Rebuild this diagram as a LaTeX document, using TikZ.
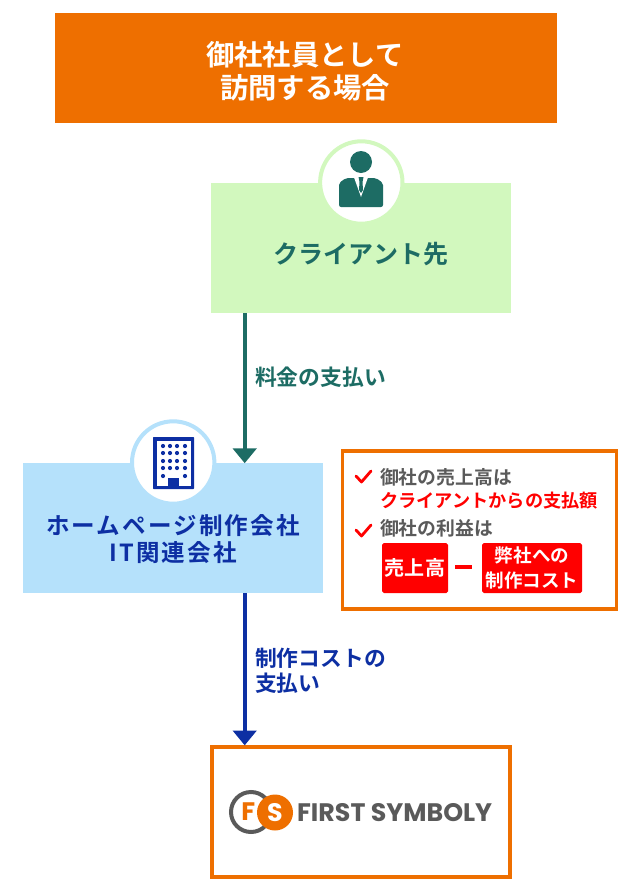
\documentclass[tikz,border=0pt]{standalone}
\usepackage{fontspec}
\usepackage{xcolor}
\usepackage{tikz}
\usetikzlibrary{arrows.meta}
\setmainfont{Noto Sans CJK JP}[BoldFont={Noto Sans CJK JP Bold}]
\newfontfamily\logofont{Poppins}[BoldFont={Poppins Bold}]
\newfontfamily\widefont{Noto Sans CJK JP Bold}[LetterSpace=9]
\definecolor{fsorange}{HTML}{EE6F00}
\definecolor{clientgreen}{HTML}{D2F8BE}
\definecolor{clientteal}{HTML}{1D6C64}
\definecolor{homeblue}{HTML}{B5E1FB}
\definecolor{homenavy}{HTML}{0D2FA3}
\definecolor{notegray}{HTML}{5A5A5A}
\definecolor{notered}{HTML}{FF0000}
\tikzset{
  flatbox/.style={minimum height=6.5cm,minimum width=15cm,align=center,font=\bfseries\fontsize{35.6}{38.4}\selectfont},
  iconring/.style={circle,draw=#1,fill=white,line width=5.7pt,minimum size=4.12cm},
  redbox/.style={fill=notered,rounded corners=2.5pt,text=white,align=center,minimum height=2.5cm,font=\bfseries\fontsize{26.4}{35.6}\selectfont},
  paylabel/.style={anchor=west,align=left,font=\bfseries\fontsize{31}{35.6}\selectfont},
  notetext/.style={anchor=west,align=left,text=notegray,font=\bfseries\fontsize{26.8}{32.7}\selectfont},
  checkmark/.style={draw=notered,line width=4pt,line cap=round,line join=round},
  payarrow/.style={draw=#1,line width=5.7pt,-{Triangle[width=33pt,length=21pt]},shorten >=-0.5pt}
}
\begin{document}
\begin{tikzpicture}[x=0.05cm,y=0.05cm]
  \tikzstyle{every node}+=[inner sep=0pt]
  \useasboundingbox (0,0) rectangle (637,-889);
  % header
  \node [fill=fsorange,text=white,minimum width=25.1cm,minimum height=5.5cm] (header) at (306,-68) {};
  \node [text=white,align=center,font=\bfseries\fontsize{40.3}{47}\selectfont] (headername) at (305,-71) {御社社員として\\訪問する場合};
  % client
  \node [flatbox,fill=clientgreen] (client) at (361,-248) {};
  \node [iconring=clientgreen] (clienticon) at (361.3,-182.5) {};
  \node [text=clientteal,font=\bfseries\fontsize{35.6}{38.4}\selectfont] (clientname) at (361,-254) {クライアント先};
  \fill [clientteal] (361,-162) circle (11);
  \fill [clientteal,rounded corners=3pt] (339,-207) -- (339,-183) -- (346,-178) -- (376,-178) -- (383,-183) -- (383,-207) -- cycle;
  \fill [white] (353.5,-176) -- (361,-197) -- (368.5,-176) -- cycle;
  \fill [clientteal] (358.5,-177) -- (363.5,-177) -- (362.5,-182) -- (363,-190) -- (361,-193) -- (359,-190) -- (359.5,-182) -- cycle;
  % home page company
  \node [flatbox,fill=homeblue] (home) at (173,-528) {};
  \node [iconring=homeblue] (homeicon) at (173.2,-462.5) {};
  \node [text=homenavy,align=center,font=\widefont\fontsize{33.5}{38.4}\selectfont] (homename) at (173,-539.5) {ホームページ制作会社\\IT関連会社};
  \fill [homenavy,rounded corners=0.8pt] (153,-437) rectangle (194,-489);
  \fill [white] (156.5,-440.5) rectangle (190.5,-485.5);
  \foreach \py in {446,453,461,468}
    \foreach \px in {163,170,177,185}
      \fill [homenavy] (\px,-\py) circle (2.1);
  \fill [homenavy] (163,-476) circle (2.1);
  \fill [homenavy] (185,-476) circle (2.1);
  \fill [homenavy] (168,-478) rectangle (179,-487);
  % first symboly
  \node [draw=fsorange,line width=5.7pt,minimum width=14.9cm,minimum height=6.5cm] (symboly) at (360.8,-812) {};
  \node [circle,draw=notegray,line width=5.7pt,minimum size=2cm,text=fsorange,font=\logofont\bfseries\fontsize{36}{36}\selectfont] (logof) at (251,-812) {\hspace*{-8pt}F};
  \node [circle,fill=fsorange,minimum size=1.8cm,text=white,font=\logofont\bfseries\fontsize{36}{36}\selectfont] (logos) at (275,-812.5) {S};
  \node [anchor=west,text=notegray,font=\logofont\bfseries\fontsize{36}{36}\selectfont] (logoname) at (297,-813) {FIRST SYMBOLY};
  % payments
  \coordinate (payclient) at (244.7,-313);
  \coordinate (payhome) at (244.7,-593);
  \draw [payarrow=clientteal] (payclient) -- (payclient |- home.north);
  \draw [payarrow=homenavy] (payhome) -- (payhome |- symboly.north);
  \node [paylabel,text=clientteal] (feelabel) at (255,-377) {料金の支払い};
  \node [paylabel,text=homenavy] (costlabel) at (255,-671) {制作コストの\\支払い};
  % note
  \node [draw=fsorange,line width=4.3pt,minimum width=13.7cm,minimum height=7.9cm] (note) at (479.5,-530) {};
  \draw [checkmark] (356,-476) -- (361.5,-482) -- (371,-471);
  \draw [checkmark] (356,-530) -- (361.5,-536) -- (371,-525);
  \node [notetext] (salesnote) at (380,-488.5) {御社の売上高は\\{\color{notered}\fontsize{25.9}{32.7}\selectfont クライアントからの支払額}};
  \node [notetext] (profitnote) at (380,-528) {御社の利益は};
  \node [redbox,minimum width=3.3cm,font=\bfseries\fontsize{28.5}{35.6}\selectfont] (salesbox) at (415,-568) {売上高};
  \node [redbox,minimum width=5cm] (costbox) at (532,-568) {弊社への\\制作コスト};
  \node [fill=notered,minimum width=0.85cm,minimum height=0.17cm] (minusbar) at (463.5,-567) {};
\end{tikzpicture}
\end{document}
